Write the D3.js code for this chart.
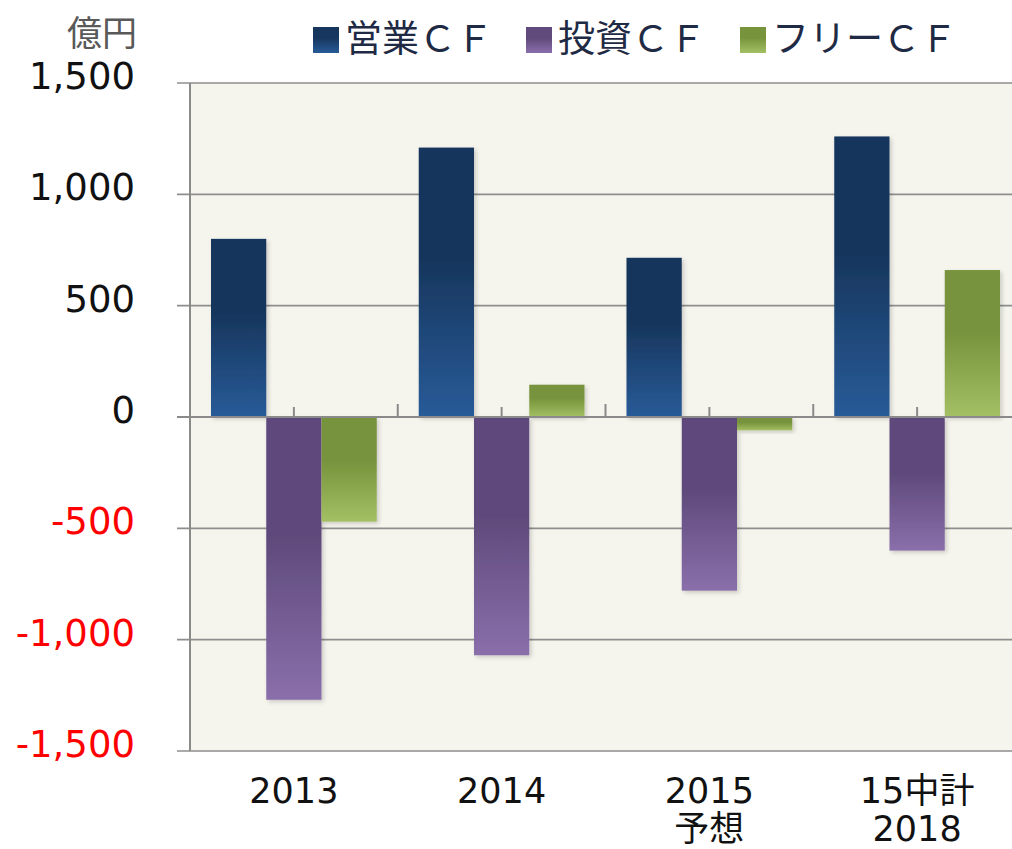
<!DOCTYPE html>
<html>
<head>
<meta charset="utf-8">
<script src="https://cdn.jsdelivr.net/npm/d3@7"></script>
<style>
body { margin: 0; background: #fff; }
svg { display: block; font-family: "DejaVu Sans", Verdana, sans-serif; }
</style>
</head>
<body>
<svg width="1012" height="849"></svg>
<script>
// data
var categories = ["2013", "2014", "2015\n予想", "15中計\n2018"];
var seriesNames = ["営業ＣＦ", "投資ＣＦ", "フリーＣＦ"];
var operatingCF = [800, 1210, 715, 1260];
var investingCF = [-1270, -1070, -780, -600];
var freeCF = [-470, 145, -60, 660];
var yTicks = [-1500, -1000, -500, 0, 500, 1000, 1500];

var colors = [
  { dark: "#17365d", light: "#285b98" },
  { dark: "#5f4a7b", light: "#8a6fab" },
  { dark: "#77933c", light: "#a4c064" }
];

var svg = d3.select("svg");
var plotL = 190, plotR = 1021, plotT = 83, plotB = 751;

var rows = categories.map(function (c, i) {
  return { cat: c, values: [operatingCF[i], investingCF[i], freeCF[i]] };
});

var x = d3.scaleBand().domain(categories).range([plotL, plotR]).paddingInner(0).paddingOuter(0);
var x1 = d3.scaleBand().domain(d3.range(3)).range([0, x.bandwidth()]).paddingOuter(0.38).paddingInner(0);
var y = d3.scaleLinear().domain([-1500, 1500]).range([plotB, plotT]);

var defs = svg.append("defs");
colors.forEach(function (c, i) {
  var g = defs.append("linearGradient").attr("id", "grad" + i)
    .attr("x1", 0).attr("y1", 0).attr("x2", 0).attr("y2", 1);
  g.append("stop").attr("offset", "0").attr("stop-color", c.dark);
  g.append("stop").attr("offset", "0.42").attr("stop-color", c.dark);
  g.append("stop").attr("offset", "1").attr("stop-color", c.light);
});
var f = defs.append("filter").attr("id", "shadow")
  .attr("x", "-10%").attr("y", "-10%").attr("width", "130%").attr("height", "130%");
f.append("feDropShadow").attr("dx", 2).attr("dy", 2).attr("stdDeviation", 2)
  .attr("flood-color", "#000").attr("flood-opacity", 0.18);

// plot background
svg.append("rect").attr("x", plotL).attr("y", plotT)
  .attr("width", plotR - plotL).attr("height", plotB - plotT)
  .attr("fill", "#f5f4ed");

// gridlines + y ticks
svg.append("g").selectAll("line").data(yTicks.filter(function (d) { return d !== 0; }))
  .enter().append("line")
  .attr("x1", plotL - 13).attr("x2", plotR)
  .attr("y1", function (d) { return y(d); }).attr("y2", function (d) { return y(d); })
  .attr("stroke", "#8e8e8e").attr("stroke-width", 1.6);

// bars
var groups = svg.append("g").selectAll("g").data(rows).enter().append("g")
  .attr("transform", function (d) { return "translate(" + x(d.cat) + ",0)"; });
groups.selectAll("rect").data(function (d) { return d.values; })
  .enter().append("rect")
  .attr("x", function (d, i) { return x1(i); })
  .attr("width", x1.bandwidth())
  .attr("y", function (d) { return y(Math.max(0, d)); })
  .attr("height", function (d) { return Math.abs(y(d) - y(0)); })
  .attr("fill", function (d, i) { return "url(#grad" + i + ")"; })
  .attr("filter", "url(#shadow)");

// y axis line
svg.append("line").attr("x1", plotL).attr("x2", plotL).attr("y1", plotT).attr("y2", plotB)
  .attr("stroke", "#8a8a8a").attr("stroke-width", 2);

// zero line with category ticks
svg.append("line").attr("x1", plotL - 13).attr("x2", plotR)
  .attr("y1", y(0)).attr("y2", y(0))
  .attr("stroke", "#8a8a8a").attr("stroke-width", 2.2);
var zt = svg.append("g");
categories.forEach(function (c, i) {
  if (i > 0) {
    zt.append("line").attr("x1", x(c)).attr("x2", x(c))
      .attr("y1", y(0) - 13).attr("y2", y(0)).attr("stroke", "#8a8a8a").attr("stroke-width", 2);
  }
  var cx = x(c) + x.bandwidth() / 2;
  zt.append("line").attr("x1", cx).attr("x2", cx)
    .attr("y1", y(0) - 10).attr("y2", y(0)).attr("stroke", "#8a8a8a").attr("stroke-width", 2);
});

// y labels
svg.append("g").selectAll("text").data(yTicks).enter().append("text")
  .attr("x", 135).attr("y", function (d) { return y(d) + 6; })
  .attr("text-anchor", "end")
  .attr("font-size", 37)
  .attr("fill", function (d) { return d < 0 ? "#ff0000" : "#111"; })
  .text(function (d) { return d3.format(",")(d).replace("−", "-"); });

// unit label
svg.append("text").attr("x", 137).attr("y", 46).attr("text-anchor", "end")
  .attr("font-family", "'Noto Sans CJK JP', sans-serif")
  .attr("font-size", 35).attr("fill", "#595959").text("億円");

// x labels
var xl = svg.append("g").selectAll("text").data(categories).enter().append("text")
  .attr("text-anchor", "middle")
  .attr("font-size", 35).attr("fill", "#111")
  .attr("font-family", "'DejaVu Sans', 'Noto Sans CJK JP', sans-serif");
xl.each(function (d) {
  var t = d3.select(this), cx = x(d) + x.bandwidth() / 2;
  d.split("\n").forEach(function (line, j) {
    t.append("tspan").attr("x", cx).attr("y", 803 + j * 38).text(line);
  });
});

// legend
var legendX = [313, 526, 740];
var lg = svg.append("g").selectAll("g").data(seriesNames).enter().append("g")
  .attr("transform", function (d, i) { return "translate(" + legendX[i] + ",0)"; });
lg.append("rect").attr("x", 0).attr("y", 27).attr("width", 26).attr("height", 26)
  .attr("fill", function (d, i) { return "url(#grad" + i + ")"; });
lg.append("text").attr("x", 32).attr("y", 52)
  .attr("font-family", "'Noto Sans CJK JP', sans-serif")
  .attr("font-size", 37).attr("fill", "#1f2a44")
  .text(function (d) { return d; });
</script>
</body>
</html>
